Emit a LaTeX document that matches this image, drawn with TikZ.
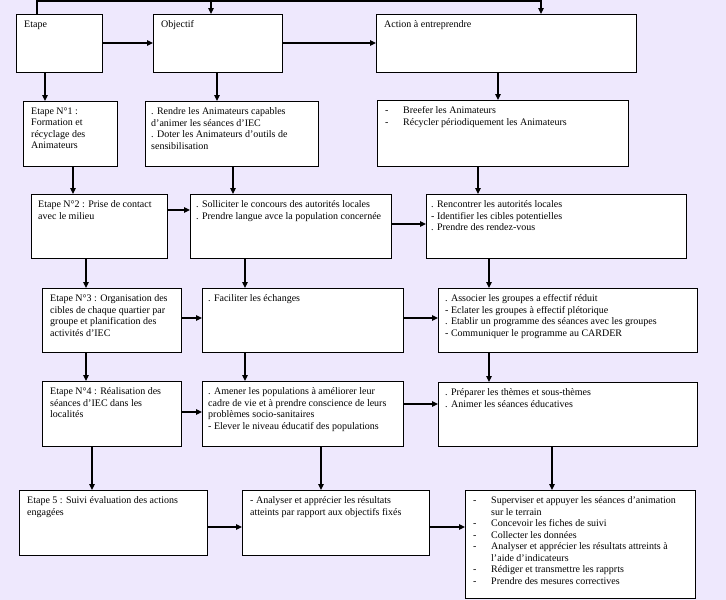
\documentclass[tikz,border=0pt]{standalone}
\usepackage{fontspec}
\setmainfont{Liberation Serif}
\usetikzlibrary{arrows.meta}
\definecolor{bgcol}{RGB}{238,232,253}
\tikzset{
  box/.style={draw=black, fill=white, line width=1.1pt, inner sep=0pt, anchor=north west},
  txt/.style={anchor=north west, inner sep=0pt, align=left, font=\fontsize{10}{11.5}\selectfont},
  arr/.style={-{Triangle[length=6pt,width=5.5pt]}, line width=1.1pt},
  ln/.style={line width=1.1pt}
}
\newcommand\bx[7]{%
  \node[box,minimum width=#4pt,minimum height=#5pt] (#1) at (#2,#3) {};
  \node[txt] (#1t) at ([shift={(#6pt,-6.5pt)}]#1.north west) {#7};}
\newcommand\dsh{\makebox[18pt][l]{-}}
\newcommand\ind{\hspace*{18pt}}
\begin{document}
\begin{tikzpicture}[x=1pt,y=-1pt]
\fill[bgcol] (0,0) rectangle (726,600);
\useasboundingbox (0,0) rectangle (726,600);
% row 0
\bx{e0}{16}{14}{86}{58}{8}{Etape}
\bx{o0}{153}{14}{129}{58}{8}{Objectif}
\bx{a0}{376}{14}{260}{58}{8}{Action à entreprendre}
% row 1
\bx{e1}{23}{101}{94}{65}{8}{Etape N°1 :\\Formation et\\récyclage des\\Animateurs}
\bx{o1}{145}{101}{173}{65}{6}{. Rendre les Animateurs capables\\d’animer les séances d’IEC\\. Doter les Animateurs d’outils de\\sensibilisation}
\bx{a1}{377}{100}{251}{66}{8}{\dsh Breefer les Animateurs\\\dsh Récycler périodiquement les Animateurs}
% row 2
\bx{e2}{31}{194}{136}{64}{7}{Etape N°2 : Prise de contact\\avec le milieu}
\bx{o2}{190}{194}{201}{64}{6}{. Solliciter le concours des autorités locales\\. Prendre langue avce la population concernée}
\bx{a2}{426}{194}{260}{64}{5}{. Rencontrer les autorités locales\\- Identifier les cibles potentielles\\. Prendre des rendez-vous}
% row 3
\bx{e3}{42}{288}{139}{64}{8}{Etape N°3 : Organisation des\\cibles de chaque quartier par\\groupe et planification des\\activités d’IEC}
\bx{o3}{202}{288}{201}{64}{6}{. Faciliter les échanges}
\bx{a3}{438}{288}{259}{64}{7}{. Associer les groupes a effectif réduit\\- Eclater les groupes à effectif plétorique\\. Etablir un programme des séances avec les groupes\\- Communiquer le programme au CARDER}
% row 4
\bx{e4}{42}{381}{139}{65}{8}{Etape N°4 : Réalisation des\\séances d’IEC dans les\\localités}
\bx{o4}{202}{381}{201}{65}{6}{. Amener les populations à améliorer leur\\cadre de vie et à prendre conscience de leurs\\problèmes socio-sanitaires\\- Elever le niveau éducatif des populations}
\bx{a4}{438}{382}{259}{64}{7}{. Préparer les thèmes et sous-thèmes\\. Animer les séances éducatives}
% row 5
\bx{e5}{19}{490}{188}{65}{8}{Etape 5 : Suivi évaluation des actions\\engagées}
\bx{o5}{242}{490}{187}{65}{8}{- Analyser et apprécier les résultats\\atteints par rapport aux objectifs fixés}
\bx{a5}{465}{490}{230}{108}{8}{\dsh Superviser et appuyer les séances d’animation\\\ind sur le terrain\\\dsh Concevoir les fiches de suivi\\\dsh Collecter les données\\\dsh Analyser et apprécier les résultats attreints à\\\ind l’aide d’indicateurs\\\dsh Rédiger et transmettre les rapprts\\\dsh Prendre des mesures correctives}
% top connector
\coordinate (t1) at (37,1);
\coordinate (t2) at (211,1);
\coordinate (t3) at (541,1);
\draw[arr] (e0.north -| t1) -- (t1) -- (t3) -- (a0.north -| t3);
\draw[arr] (t2) -- (o0.north -| t2);
% horizontal arrows
\draw[arr] (e0.east |- 0,43) -- (o0.west |- 0,43);
\draw[arr] (o0.east |- 0,43) -- (a0.west |- 0,43);
\draw[arr] (e2.east |- 0,210) -- (o2.west |- 0,210);
\draw[arr] (o2.east |- 0,224) -- (a2.west |- 0,224);
\draw[arr] (e3.east |- 0,318) -- (o3.west |- 0,318);
\draw[arr] (o3.east |- 0,318) -- (a3.west |- 0,318);
\draw[arr] (e4.east |- 0,412) -- (o4.west |- 0,412);
\draw[arr] (o4.east |- 0,404) -- (a4.west |- 0,404);
\draw[arr] (e5.east |- 0,527) -- (o5.west |- 0,527);
\draw[arr] (o5.east |- 0,527) -- (a5.west |- 0,527);
% vertical arrows
\draw[arr] (e0.south -| 45,0) -- (e1.north -| 45,0);
\draw[arr] (o0.south -| 217,0) -- (o1.north -| 217,0);
\draw[arr] (a0.south -| 498,0) -- (a1.north -| 498,0);
\draw[arr] (e1.south -| 73,0) -- (e2.north -| 73,0);
\draw[arr] (o1.south -| 233,0) -- (o2.north -| 233,0);
\draw[arr] (a1.south -| 478,0) -- (a2.north -| 478,0);
\draw[arr] (e2.south -| 86,0) -- (e3.north -| 86,0);
\draw[arr] (o2.south -| 245,0) -- (o3.north -| 245,0);
\draw[arr] (a2.south -| 489,0) -- (a3.north -| 489,0);
\draw[arr] (e3.south -| 86,0) -- (e4.north -| 86,0);
\draw[arr] (o3.south -| 245,0) -- (o4.north -| 245,0);
\draw[arr] (a3.south -| 489,0) -- (a4.north -| 489,0);
\draw[arr] (e4.south -| 92,0) -- (e5.north -| 92,0);
\draw[arr] (o4.south -| 321,0) -- (o5.north -| 321,0);
\draw[arr] (a4.south -| 552,0) -- (a5.north -| 552,0);
\end{tikzpicture}
\end{document}
